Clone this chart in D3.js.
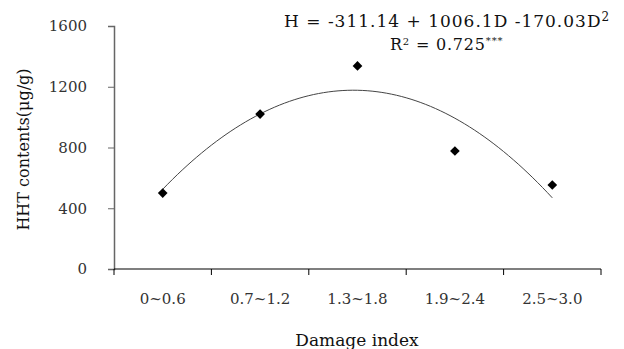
<!DOCTYPE html>
<html>
<head>
<meta charset="utf-8">
<script src="https://cdn.jsdelivr.net/npm/d3@7"></script>
<style>
  body { margin: 0; background: #fff; }
  svg { display: block; font-family: "DejaVu Serif", "Liberation Serif", serif; }
</style>
</head>
<body>
<svg id="chart" width="624" height="349"></svg>
<script>
// damage index classes and measured HHT contents
var categories = ["0~0.6", "0.7~1.2", "1.3~1.8", "1.9~2.4", "2.5~3.0"];
var hhtValues = [500, 1020, 1337, 777, 553];
var yTicks = [0, 400, 800, 1200, 1600];
// quadratic fit shown on the chart: H = a + bD + cD^2
var fitCoef = [-311.14, 1006.1, -170.03];

var svg = d3.select("#chart");
var margin = {top: 26, right: 23, bottom: 80, left: 114};
var width = 624 - margin.left - margin.right;
var height = 349 - margin.top - margin.bottom;

var g = svg.append("g")
    .attr("transform", "translate(" + margin.left + "," + margin.top + ")");

var x = d3.scaleBand()
    .domain(categories)
    .range([0, width]);

var y = d3.scaleLinear()
    .domain([0, 1600])
    .range([height, 0]);

// x position for D = 1..5 at category centres
var xD = d3.scaleLinear()
    .domain([1, categories.length])
    .range([x(categories[0]) + x.bandwidth() / 2, x(categories[categories.length - 1]) + x.bandwidth() / 2]);

// y axis
var yAxis = g.append("g")
    .call(d3.axisLeft(y).tickValues(yTicks).tickFormat(d3.format("d")).tickSize(6).tickPadding(21));
yAxis.select(".domain").attr("stroke", "#666").attr("stroke-width", 1.5);
yAxis.selectAll(".tick line").attr("stroke", "#666");
yAxis.selectAll("text").attr("font-size", 15).attr("fill", "#333")
    .attr("font-family", "DejaVu Serif");

// x axis with ticks on band boundaries
var xAxis = g.append("g")
    .attr("transform", "translate(0," + height + ")");
xAxis.append("line")
    .attr("x1", 0).attr("x2", width)
    .attr("stroke", "#000").attr("stroke-width", 1.2);
var bounds = categories.map(function(d) { return x(d); }).concat([width]);
xAxis.selectAll(".xt")
    .data(bounds)
    .enter().append("line")
    .attr("x1", function(d) { return d; })
    .attr("x2", function(d) { return d; })
    .attr("y1", 0).attr("y2", 6)
    .attr("stroke", "#000");
xAxis.selectAll(".xl")
    .data(categories)
    .enter().append("text")
    .attr("x", function(d) { return x(d) + x.bandwidth() / 2; })
    .attr("y", 35)
    .attr("text-anchor", "middle")
    .attr("font-size", 15)
    .attr("fill", "#333")
    .text(function(d) { return d; });

// fitted curve
var curveD = d3.range(1, 5.001, 0.05);
var line = d3.line()
    .x(function(d) { return xD(d); })
    .y(function(d) { return y(fitCoef[0] + fitCoef[1] * d + fitCoef[2] * d * d); });
g.append("path")
    .datum(curveD)
    .attr("fill", "none")
    .attr("stroke", "#444")
    .attr("stroke-width", 1)
    .attr("d", line);

// data points
g.selectAll(".pt")
    .data(hhtValues)
    .enter().append("path")
    .attr("transform", function(d, i) {
        return "translate(" + (x(categories[i]) + x.bandwidth() / 2) + "," + y(d) + ")";
    })
    .attr("d", d3.symbol().type(d3.symbolDiamond2).size(60))
    .attr("fill", "#000");

// equation text
svg.append("text")
    .attr("x", 284).attr("y", 27)
    .attr("font-size", 17)
    .attr("letter-spacing", 1)
    .attr("fill", "#111")
    .html("H = -311.14 + 1006.1D -170.03D<tspan dy='-6' font-size='12'>2</tspan>");
svg.append("text")
    .attr("x", 390).attr("y", 50)
    .attr("font-size", 16)
    .attr("letter-spacing", 0.8)
    .attr("fill", "#111")
    .html("R<tspan dy='-5' font-size='10'>2</tspan><tspan dy='5'> = 0.725</tspan><tspan dy='-6' font-size='10'>***</tspan>");

// axis titles
svg.append("text")
    .attr("transform", "translate(29," + (margin.top + height / 2 + 2) + ") rotate(-90)")
    .attr("text-anchor", "middle")
    .attr("font-size", 16)
    .attr("fill", "#111")
    .text("HHT contents(\u03bcg/g)");
svg.append("text")
    .attr("x", 357).attr("y", 346)
    .attr("text-anchor", "middle")
    .attr("font-size", 17)
    .attr("fill", "#111")
    .text("Damage index");
</script>
</body>
</html>
